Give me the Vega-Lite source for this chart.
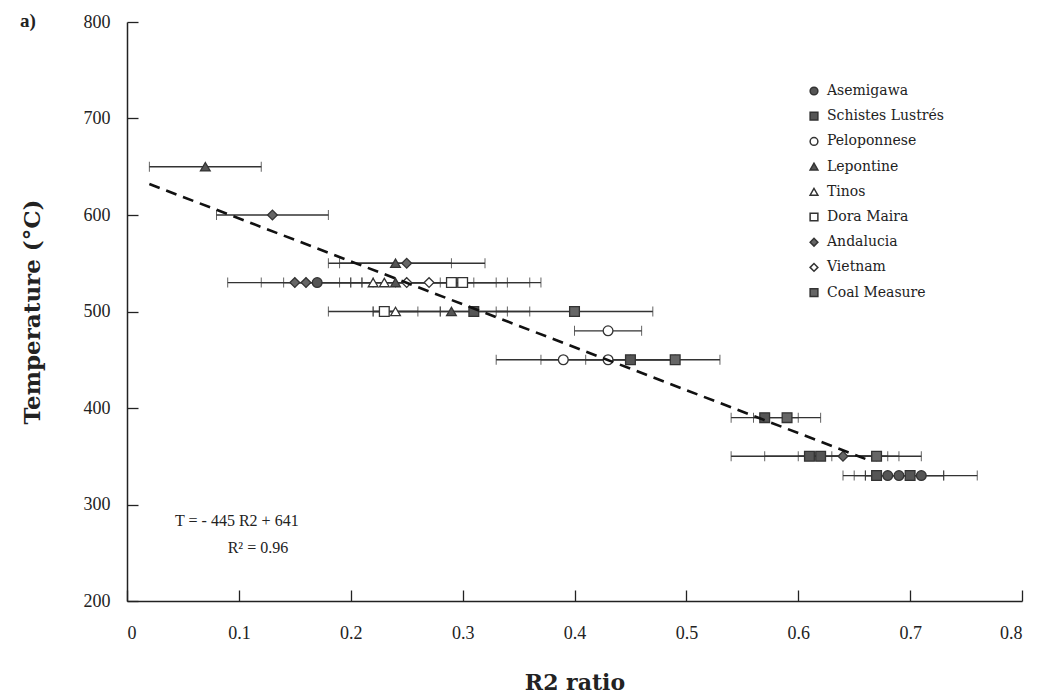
{
  "$schema": "https://vega.github.io/schema/vega-lite/v6.json",
  "width": 895,
  "height": 579,
  "autosize": {"type": "none"},
  "padding": {"left": 127, "top": 22, "right": 22, "bottom": 93},
  "background": "white",
  "title": {
    "text": "a)",
    "anchor": "start",
    "frame": "group",
    "dx": -107,
    "dy": 22,
    "font": "Liberation Serif",
    "fontSize": 19,
    "fontWeight": "bold",
    "color": "#222"
  },
  "datasets": {
    "samples": [
      {"series": "Lepontine", "r2": 0.07, "temp": 650, "lo": 0.02, "hi": 0.12},
      {"series": "Andalucia", "r2": 0.13, "temp": 600, "lo": 0.08, "hi": 0.18},
      {"series": "Lepontine", "r2": 0.24, "temp": 550, "lo": 0.18, "hi": 0.29},
      {"series": "Andalucia", "r2": 0.25, "temp": 550, "lo": 0.19, "hi": 0.32},
      {"series": "Andalucia", "r2": 0.15, "temp": 530, "lo": 0.09, "hi": 0.21},
      {"series": "Andalucia", "r2": 0.16, "temp": 530, "lo": 0.12, "hi": 0.2},
      {"series": "Asemigawa", "r2": 0.17, "temp": 530, "lo": 0.14, "hi": 0.22},
      {"series": "Tinos", "r2": 0.22, "temp": 530, "lo": 0.15, "hi": 0.28},
      {"series": "Tinos", "r2": 0.23, "temp": 530, "lo": 0.16, "hi": 0.3},
      {"series": "Lepontine", "r2": 0.24, "temp": 530, "lo": 0.19, "hi": 0.31},
      {"series": "Vietnam", "r2": 0.25, "temp": 530, "lo": 0.2, "hi": 0.33},
      {"series": "Vietnam", "r2": 0.27, "temp": 530, "lo": 0.21, "hi": 0.34},
      {"series": "Dora Maira", "r2": 0.29, "temp": 530, "lo": 0.24, "hi": 0.36},
      {"series": "Dora Maira", "r2": 0.3, "temp": 530, "lo": 0.25, "hi": 0.37},
      {"series": "Dora Maira", "r2": 0.23, "temp": 500, "lo": 0.18, "hi": 0.28},
      {"series": "Tinos", "r2": 0.24, "temp": 500, "lo": 0.22, "hi": 0.26},
      {"series": "Lepontine", "r2": 0.29, "temp": 500, "lo": 0.22, "hi": 0.36},
      {"series": "Schistes Lustrés", "r2": 0.31, "temp": 500, "lo": 0.28, "hi": 0.34},
      {"series": "Coal Measure", "r2": 0.4, "temp": 500, "lo": 0.33, "hi": 0.47},
      {"series": "Peloponnese", "r2": 0.43, "temp": 480, "lo": 0.4, "hi": 0.46},
      {"series": "Peloponnese", "r2": 0.39, "temp": 450, "lo": 0.33, "hi": 0.45},
      {"series": "Peloponnese", "r2": 0.43, "temp": 450, "lo": 0.37, "hi": 0.49},
      {"series": "Schistes Lustrés", "r2": 0.45, "temp": 450, "lo": 0.41, "hi": 0.49},
      {"series": "Coal Measure", "r2": 0.49, "temp": 450, "lo": 0.45, "hi": 0.53},
      {"series": "Schistes Lustrés", "r2": 0.57, "temp": 390, "lo": 0.54, "hi": 0.6},
      {"series": "Coal Measure", "r2": 0.59, "temp": 390, "lo": 0.56, "hi": 0.62},
      {"series": "Schistes Lustrés", "r2": 0.61, "temp": 350, "lo": 0.54, "hi": 0.68},
      {"series": "Schistes Lustrés", "r2": 0.62, "temp": 350, "lo": 0.57, "hi": 0.67},
      {"series": "Andalucia", "r2": 0.64, "temp": 350, "lo": 0.6, "hi": 0.69},
      {"series": "Coal Measure", "r2": 0.67, "temp": 350, "lo": 0.63, "hi": 0.71},
      {"series": "Schistes Lustrés", "r2": 0.67, "temp": 330, "lo": 0.64, "hi": 0.7},
      {"series": "Asemigawa", "r2": 0.68, "temp": 330, "lo": 0.65, "hi": 0.71},
      {"series": "Asemigawa", "r2": 0.69, "temp": 330, "lo": 0.66, "hi": 0.73},
      {"series": "Schistes Lustrés", "r2": 0.7, "temp": 330, "lo": 0.67, "hi": 0.73},
      {"series": "Asemigawa", "r2": 0.71, "temp": 330, "lo": 0.66, "hi": 0.76}
    ],
    "fit": [
      {"r2": 0.02, "temp": 632.1},
      {"r2": 0.66, "temp": 347.3}
    ],
    "notes": [
      {"r2": 0.043, "temp": 283, "label": "T = - 445 R2 + 641"},
      {"r2": 0.09, "temp": 255, "label": "R² = 0.96"}
    ]
  },
  "encoding": {
    "x": {
      "field": "r2",
      "type": "quantitative",
      "scale": {"domain": [0, 0.8], "nice": false, "zero": false},
      "axis": {
        "title": "R2 ratio",
        "values": [0, 0.1, 0.2, 0.3, 0.4, 0.5, 0.6, 0.7, 0.8],
        "format": "~g",
        "grid": false,
        "domainColor": "#222",
        "domainWidth": 1.5,
        "tickColor": "#222",
        "tickSize": -11,
        "tickWidth": 1.3,
        "labelPadding": 34,
        "labelFont": "Liberation Serif",
        "labelFontSize": 18,
        "labelColor": "#222",
        "titleFont": "DejaVu Serif",
        "titleFontSize": 22,
        "titleFontWeight": "bold",
        "titleColor": "#222",
        "titlePadding": 30
      }
    },
    "y": {
      "field": "temp",
      "type": "quantitative",
      "scale": {"domain": [200, 800], "nice": false, "zero": false},
      "axis": {
        "title": "Temperature (°C)",
        "values": [200, 300, 400, 500, 600, 700, 800],
        "grid": false,
        "domainColor": "#222",
        "domainWidth": 1.5,
        "tickColor": "#222",
        "tickSize": -11,
        "tickWidth": 1.3,
        "labelPadding": 28,
        "labelFont": "Liberation Serif",
        "labelFontSize": 18,
        "labelColor": "#222",
        "titleFont": "DejaVu Serif",
        "titleFontSize": 23,
        "titleFontWeight": "bold",
        "titleColor": "#222",
        "titlePadding": 39
      }
    }
  },
  "layer": [
    {
      "data": {"name": "samples"},
      "mark": {"type": "errorbar", "ticks": {"size": 10, "color": "#222", "strokeWidth": 1.4}, "rule": {"color": "#333", "strokeWidth": 1.3}},
      "encoding": {
        "x": {"field": "lo", "type": "quantitative"},
        "x2": {"field": "hi"},
        "y": {"field": "temp", "type": "quantitative"}
      }
    },
    {
      "data": {"name": "samples"},
      "mark": {"type": "point", "filled": true, "size": 95, "stroke": "#333", "strokeWidth": 1.3, "opacity": 1},
      "encoding": {
        "shape": {
          "field": "series",
          "type": "nominal",
          "scale": {
            "domain": ["Asemigawa", "Schistes Lustrés", "Peloponnese", "Lepontine", "Tinos", "Dora Maira", "Andalucia", "Vietnam", "Coal Measure"],
            "range": ["circle", "square", "circle", "triangle-up", "triangle-up", "square", "diamond", "diamond", "square"]
          },
          "legend": {
            "title": null,
            "orient": "none",
            "legendX": 680,
            "legendY": 62,
            "labelFont": "DejaVu Serif",
            "labelFontSize": 14,
            "labelColor": "#222",
            "symbolSize": 60,
            "rowPadding": 11.2,
            "labelOffset": 6,
            "encode": {
              "symbols": {
                "update": {
                  "stroke": {"value": "#333"},
                  "strokeWidth": {"value": 1.3}
                }
              }
            }
          }
        },
        "fill": {
          "field": "series",
          "type": "nominal",
          "scale": {
            "domain": ["Asemigawa", "Schistes Lustrés", "Peloponnese", "Lepontine", "Tinos", "Dora Maira", "Andalucia", "Vietnam", "Coal Measure"],
            "range": ["#555555", "#555555", "#ffffff", "#555555", "#ffffff", "#ffffff", "#666666", "#ffffff", "#666666"]
          }
        }
      }
    },
    {
      "data": {"name": "fit"},
      "mark": {"type": "line", "color": "#111", "strokeWidth": 2.6, "strokeDash": [11, 7]},
      "encoding": {}
    },
    {
      "data": {"name": "notes"},
      "mark": {"type": "text", "align": "left", "baseline": "middle", "font": "Liberation Serif", "fontSize": 16, "color": "#222"},
      "encoding": {
        "text": {"field": "label"}
      }
    }
  ],
  "config": {
    "view": {"stroke": null}
  }
}
